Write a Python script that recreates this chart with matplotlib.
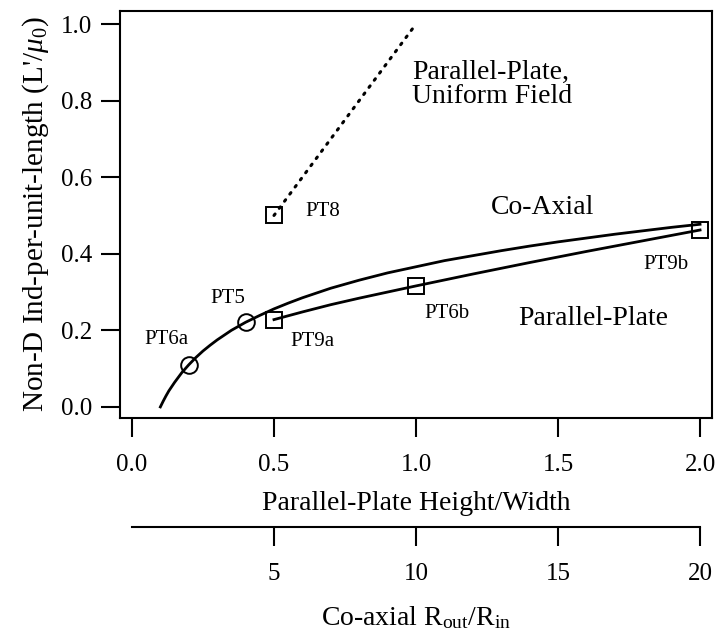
import numpy as np
import matplotlib
matplotlib.use("Agg")
import matplotlib.pyplot as plt

plt.rcParams['font.family'] = ['Liberation Serif', 'DejaVu Serif']
plt.rcParams['mathtext.fontset'] = 'custom'
plt.rcParams['mathtext.rm'] = 'Liberation Serif'
plt.rcParams['mathtext.it'] = 'Liberation Serif:italic'

# co-axial curve (x = parallel-plate h/w axis, i.e. R_out/R_in / 10)
coax_x = [0.10, 0.11, 0.12, 0.13, 0.15, 0.175, 0.20, 0.225, 0.25, 0.275,
          0.30, 0.35, 0.40, 0.45, 0.50, 0.55, 0.60, 0.70, 0.80, 0.90,
          1.00, 1.10, 1.20, 1.30, 1.40, 1.50, 1.60, 1.70, 1.80, 1.90, 2.00]
coax_y = [0.000, 0.015, 0.029, 0.042, 0.064, 0.089, 0.110, 0.129, 0.146,
          0.161, 0.175, 0.200, 0.221, 0.239, 0.256, 0.271, 0.285, 0.310,
          0.331, 0.350, 0.366, 0.382, 0.395, 0.408, 0.420, 0.431, 0.441,
          0.451, 0.460, 0.469, 0.477]

# parallel-plate curve
pp_x = [0.50, 0.60, 0.70, 0.80, 0.90, 1.00, 1.20, 1.40, 1.60, 1.80, 2.00]
pp_y = [0.228, 0.248, 0.267, 0.284, 0.300, 0.316, 0.347, 0.377, 0.406,
        0.434, 0.462]

# uniform field line
uf_x = [0.5, 1.0]
uf_y = [0.5, 1.0]

# test points
circ_names = ['PT6a', 'PT5']
circ_x = [0.2, 0.4]
circ_y = [0.110, 0.221]
sq_names = ['PT9a', 'PT6b', 'PT9b', 'PT8']
sq_x = [0.5, 1.0, 2.0, 0.5]
sq_y = [0.228, 0.316, 0.462, 0.5]

# label positions
lab_pos = {'PT6a': (0.123, 0.175), 'PT5': (0.338, 0.282), 'PT9a': (0.637, 0.170),
           'PT8': (0.67, 0.51), 'PT6b': (1.109, 0.245), 'PT9b': (1.88, 0.371)}

xticks = [0.0, 0.5, 1.0, 1.5, 2.0]
yticks = [0.0, 0.2, 0.4, 0.6, 0.8, 1.0]
ratio_ticks = [5, 10, 15, 20]

fig = plt.figure(figsize=(7.17, 6.35), dpi=100)
ax = fig.add_axes([0.1674, 0.3417, 0.8256, 0.641])

ax.plot(coax_x, coax_y, color='black', lw=2, solid_joinstyle='round')
ax.plot(pp_x, pp_y, color='black', lw=2, solid_joinstyle='round')
ax.plot(uf_x, uf_y, color='black', lw=2.2, linestyle=(0, (0.6, 2.3)),
        dash_capstyle='round')
ax.plot(circ_x, circ_y, 'o', ms=12, mfc='none', mec='black', mew=1.4)
ax.plot(sq_x, sq_y, 's', ms=11.5, mfc='none', mec='black', mew=1.4)

for name, (tx, ty) in lab_pos.items():
    ax.text(tx, ty, name, fontsize=15, ha='center', va='center')

ax.text(0.986, 0.841, 'Parallel-Plate,\nUniform Field', fontsize=20,
        ha='left', va='center', linespacing=0.95)
ax.text(1.444, 0.522, 'Co-Axial', fontsize=20, ha='center', va='center')
ax.text(1.623, 0.230, 'Parallel-Plate', fontsize=20, ha='center', va='center')

ax.set_xlim(-0.042, 2.042)
ax.set_ylim(-0.029, 1.034)
ax.set_xticks(xticks)
ax.set_xticklabels(['%.1f' % v for v in xticks])
ax.set_yticks(yticks)
ax.set_yticklabels(['%.1f' % v for v in yticks])
ax.tick_params(direction='out', length=14, width=1.5, labelsize=18)
ax.tick_params(axis='x', pad=12)
ax.tick_params(axis='y', pad=6)
for s in ax.spines.values():
    s.set_linewidth(1.5)
ax.set_xlabel('Parallel-Plate Height/Width', fontsize=20, labelpad=11)
ax.set_ylabel("Non-D Ind-per-unit-length (L'/$\\mu_0$)", fontsize=21, labelpad=7)

# second axis for co-axial ratio
ax2 = fig.add_axes([0.1674, 0.1701, 0.8256, 0.0001])
ax2.set_xlim(-0.42, 20.42)
for k in ['top', 'left', 'right']:
    ax2.spines[k].set_visible(False)
ax2.spines['bottom'].set_bounds(0, 20)
ax2.spines['bottom'].set_linewidth(1.5)
ax2.set_yticks([])
ax2.set_xticks(ratio_ticks)
ax2.tick_params(direction='out', length=14, width=1.5, labelsize=18, pad=12)
ax2.set_xlabel('Co-axial R$_{\\mathrm{out}}$/R$_{\\mathrm{in}}$', fontsize=20,
               labelpad=14)
ax2.patch.set_visible(False)

fig.savefig('out.png', dpi=100)
